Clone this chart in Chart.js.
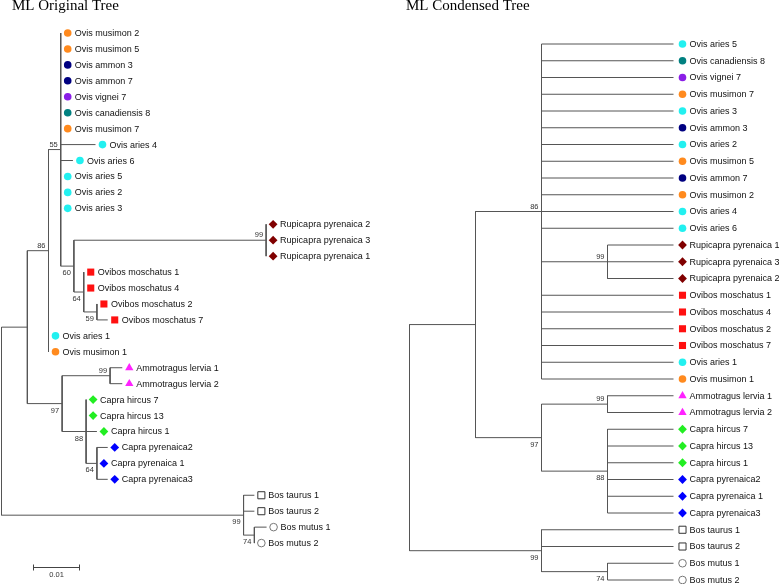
<!DOCTYPE html>
<html>
<head>
<meta charset="utf-8">
<title>ML Original Tree / ML Condensed Tree</title>
<script src="https://cdn.jsdelivr.net/npm/chart.js@4.4.1/dist/chart.umd.min.js"></script>
<style>
  html, body { margin: 0; padding: 0; background: #fff; }
  #tree { display: block; }
</style>
</head>
<body>
<canvas id="tree" width="779" height="584"></canvas>
<script>
// ---- data -------------------------------------------------------------
// ML tree, branch lengths in substitutions/site, bootstrap on inner nodes
var originalTree =
    '((((Ovis_musimon_2:0,Ovis_musimon_5:0,Ovis_ammon_3:0,Ovis_ammon_7:0,Ovis_vignei_7:0,' +
    'Ovis_canadiensis_8:0,Ovis_musimon_7:0,Ovis_aries_4:0.0074,Ovis_aries_6:0.0026,' +
    'Ovis_aries_5:0,Ovis_aries_2:0,Ovis_aries_3:0,' +
    '((Rupicapra_pyrenaica_2:0,Rupicapra_pyrenaica_3:0,Rupicapra_pyrenaica_1:0)99:0.0409,' +
    '(Ovibos_moschatus_1:0,Ovibos_moschatus_4:0,(Ovibos_moschatus_2:0,Ovibos_moschatus_7:0.0023)59:0.0028)64:0.0021)60:0.0028)55:0.0026,' +
    'Ovis_aries_1:0,Ovis_musimon_1:0)86:0.0045,' +
    '((Ammotragus_lervia_1:0.0026,Ammotragus_lervia_2:0.0026)99:0.0102,' +
    '(Capra_hircus_7:0,Capra_hircus_13:0,Capra_hircus_1:0.0023,' +
    '(Capra_pyrenaica2:0.0023,Capra_pyrenaica_1:0,Capra_pyrenaica3:0.0023)64:0.0023)88:0.0051)97:0.0074):0.0055,' +
    '(Bos_taurus_1:0.0023,Bos_taurus_2:0.0023,(Bos_mutus_1:0.0026,Bos_mutus_2:0)74:0.0023)99:0.0515);';

// condensed tree (topology only)
var condensedTree =
    '(((Ovis_aries_5,Ovis_canadiensis_8,Ovis_vignei_7,Ovis_musimon_7,Ovis_aries_3,Ovis_ammon_3,' +
    'Ovis_aries_2,Ovis_musimon_5,Ovis_ammon_7,Ovis_musimon_2,Ovis_aries_4,Ovis_aries_6,' +
    '(Rupicapra_pyrenaica_1,Rupicapra_pyrenaica_3,Rupicapra_pyrenaica_2)99,' +
    'Ovibos_moschatus_1,Ovibos_moschatus_4,Ovibos_moschatus_2,Ovibos_moschatus_7,Ovis_aries_1,Ovis_musimon_1)86,' +
    '((Ammotragus_lervia_1,Ammotragus_lervia_2)99,(Capra_hircus_7,Capra_hircus_13,Capra_hircus_1,' +
    'Capra_pyrenaica2,Capra_pyrenaica_1,Capra_pyrenaica3)88)97),' +
    '(Bos_taurus_1,Bos_taurus_2,(Bos_mutus_1,Bos_mutus_2)74)99);';

var treeTitles = ['ML Original Tree', 'ML Condensed Tree'];

var speciesNames   = ['Ovis musimon', 'Ovis ammon', 'Ovis vignei', 'Ovis canadiensis', 'Ovis aries',
                      'Rupicapra pyrenaica', 'Ovibos moschatus', 'Ammotragus lervia',
                      'Capra hircus', 'Capra pyrenaica', 'Bos taurus', 'Bos mutus'];
var speciesColors  = ['#ff8a1e', '#000080', '#8a1ee6', '#008080', '#22f0f0',
                      '#800000', '#ff1010', '#ff22ff', '#22ee22', '#0000ff', '#ffffff', '#ffffff'];
var speciesMarkers = ['circle', 'circle', 'circle', 'circle', 'circle',
                      'rectRot', 'rect', 'triangle', 'rectRot', 'rectRot', 'rect', 'circle'];
var markerSizes    = { circle: 3.8, rect: 5, rectRot: 4.4, triangle: 4.8 };

var scaleBarLength = 0.01;

// ---- layout (pixels) --------------------------------------------------
var W = 779, H = 584;
var layoutL = { rootX: 1.5, pxPerUnit: 4700, firstTipY: 33, tipStep: 15.94, markerGap: 7 };
var layoutR = { rootX: 409.5, pxPerUnit: 66, firstTipY: 44, tipStep: 16.75, markerGap: 9 };

// ---- newick parsing + tree layout ------------------------------------
function parseNewick(s) {
    var i = 0;
    function node() {
        var n = { children: [], name: '', length: 0 };
        if (s[i] === '(') {
            i++;
            n.children.push(node());
            while (s[i] === ',') { i++; n.children.push(node()); }
            i++;
        }
        var lab = '';
        while (i < s.length && ',):;'.indexOf(s[i]) < 0) lab += s[i++];
        n.name = lab.replace(/_/g, ' ');
        if (s[i] === ':') {
            i++;
            var num = '';
            while (i < s.length && ',);'.indexOf(s[i]) < 0) num += s[i++];
            n.length = parseFloat(num);
        }
        return n;
    }
    return node();
}

function layoutTree(root, cladogram) {
    var tips = [], inner = [], counter = 0;
    function level(n) {
        n.level = n.children.length ? Math.max.apply(null, n.children.map(level)) + 1 : 0;
        return n.level;
    }
    if (cladogram) level(root);
    (function walk(n, parent) {
        if (cladogram) n.x = root.level - n.level;
        else n.x = parent ? parent.x + n.length : 0;
        n.children.forEach(function (c) { walk(c, n); });
        if (n.children.length) {
            n.y = (n.children[0].y + n.children[n.children.length - 1].y) / 2;
            inner.push(n);
        } else {
            n.y = counter++;
            tips.push(n);
        }
        n.parent = parent;
    })(root, null);
    return { root: root, tips: tips, inner: inner };
}

function branchPoints(t) {
    var pts = [];
    t.inner.forEach(function (n) {
        var first = n.children[0], last = n.children[n.children.length - 1];
        pts.push({ x: n.x, y: first.y }, { x: n.x, y: last.y }, { x: null, y: null });
        n.children.forEach(function (c) {
            if (c.x > n.x) pts.push({ x: n.x, y: c.y }, { x: c.x, y: c.y }, { x: null, y: null });
        });
    });
    return pts;
}

function speciesOf(name) {
    var best = 0, len = 0;
    speciesNames.forEach(function (sp, k) {
        if (name.indexOf(sp) === 0 && sp.length > len) { best = k; len = sp.length; }
    });
    return best;
}

function tipDataset(t, lay, xAxis, yAxis) {
    var sp = t.tips.map(function (n) { return speciesOf(n.name); });
    return {
        kind: 'tips',
        names: t.tips.map(function (n) { return n.name; }),
        xAxisID: xAxis, yAxisID: yAxis, order: 0,
        data: t.tips.map(function (n) { return { x: n.x + lay.markerGap / lay.pxPerUnit, y: n.y }; }),
        pointStyle: sp.map(function (k) { return speciesMarkers[k]; }),
        pointRadius: sp.map(function (k) { return markerSizes[speciesMarkers[k]]; }),
        backgroundColor: sp.map(function (k) { return speciesColors[k]; }),
        borderColor: sp.map(function (k) { return k >= 10 ? (k === 11 ? '#777' : '#333') : speciesColors[k]; }),
        borderWidth: sp.map(function (k) { return k >= 10 ? 1 : 0; }),
        showLine: false
    };
}

function supportDataset(t, xAxis, yAxis) {
    var nodes = t.inner.filter(function (n) { return n.name !== ''; });
    return {
        kind: 'support', xAxisID: xAxis, yAxisID: yAxis, order: 0,
        data: nodes.map(function (n) {
            var sib = n.parent.children;
            return { x: n.x, y: n.y, label: n.name, below: sib[sib.length - 1] === n };
        }),
        pointRadius: 0, showLine: false
    };
}

function lineDataset(t, xAxis, yAxis) {
    return {
        kind: 'branches', xAxisID: xAxis, yAxisID: yAxis, order: 1,
        data: branchPoints(t), showLine: true, spanGaps: false,
        borderColor: '#555', borderWidth: 1, pointRadius: 0, tension: 0
    };
}

var treeL = layoutTree(parseNewick(originalTree), false);
var treeR = layoutTree(parseNewick(condensedTree), true);

// ---- text: titles, tip names, bootstrap, scale bar -------------------
var treeText = {
    id: 'treeText',
    afterDatasetsDraw: function (chart) {
        var ctx = chart.ctx;
        ctx.save();

        ctx.fillStyle = '#000';
        ctx.font = '15px "Liberation Serif", "Times New Roman", serif';
        ctx.textBaseline = 'alphabetic';
        ctx.textAlign = 'left';
        ctx.fillText(treeTitles[0], 12, 10);
        ctx.fillText(treeTitles[1], 406, 10);

        chart.data.datasets.forEach(function (ds, di) {
            var meta = chart.getDatasetMeta(di);
            if (ds.kind === 'tips') {
                ctx.fillStyle = '#111';
                ctx.font = '9px "Liberation Sans", Arial, sans-serif';
                ctx.textAlign = 'left';
                ctx.textBaseline = 'middle';
                meta.data.forEach(function (pt, i) {
                    ctx.fillText(ds.names[i], pt.x + 7, pt.y + 0.5);
                });
            } else if (ds.kind === 'support') {
                ctx.fillStyle = '#333';
                ctx.font = '7.5px "Liberation Sans", Arial, sans-serif';
                ctx.textAlign = 'right';
                ctx.textBaseline = 'middle';
                meta.data.forEach(function (pt, i) {
                    var d = ds.data[i];
                    ctx.fillText(d.label, pt.x - 3, pt.y + (d.below ? 7 : -5));
                });
            }
        });

        // scale bar
        var xs = chart.scales.xL;
        var len = xs.getPixelForValue(scaleBarLength) - xs.getPixelForValue(0);
        var x0 = 33, y0 = 567.5;
        ctx.strokeStyle = '#444';
        ctx.lineWidth = 1;
        ctx.beginPath();
        ctx.moveTo(x0, y0); ctx.lineTo(x0 + len, y0);
        ctx.moveTo(x0 + 0.5, y0 - 3); ctx.lineTo(x0 + 0.5, y0 + 3);
        ctx.moveTo(x0 + len - 0.5, y0 - 3); ctx.lineTo(x0 + len - 0.5, y0 + 3);
        ctx.stroke();
        ctx.fillStyle = '#333';
        ctx.font = '7.5px "Liberation Sans", Arial, sans-serif';
        ctx.textAlign = 'center';
        ctx.textBaseline = 'middle';
        ctx.fillText(String(scaleBarLength), x0 + len / 2, y0 + 7);

        ctx.restore();
    }
};

function axis(lay, horizontal, size) {
    if (horizontal) {
        return { type: 'linear', display: false, bounds: 'data',
                 min: -lay.rootX / lay.pxPerUnit, max: (size - lay.rootX) / lay.pxPerUnit };
    }
    return { type: 'linear', display: false, reverse: true, bounds: 'data',
             min: -lay.firstTipY / lay.tipStep, max: (size - lay.firstTipY) / lay.tipStep };
}

var chart = new Chart(document.getElementById('tree'), {
    type: 'scatter',
    data: {
        datasets: [
            tipDataset(treeL, layoutL, 'xL', 'yL'),
            supportDataset(treeL, 'xL', 'yL'),
            lineDataset(treeL, 'xL', 'yL'),
            tipDataset(treeR, layoutR, 'xR', 'yR'),
            supportDataset(treeR, 'xR', 'yR'),
            lineDataset(treeR, 'xR', 'yR')
        ]
    },
    options: {
        responsive: false,
        animation: false,
        devicePixelRatio: 1,
        events: [],
        layout: { padding: 0, autoPadding: false },
        clip: false,
        scales: {
            xL: axis(layoutL, true, W),
            yL: axis(layoutL, false, H),
            xR: axis(layoutR, true, W),
            yR: axis(layoutR, false, H)
        },
        plugins: {
            legend: { display: false },
            tooltip: { enabled: false },
            title: { display: false }
        }
    },
    plugins: [treeText]
});
</script>
</body>
</html>
